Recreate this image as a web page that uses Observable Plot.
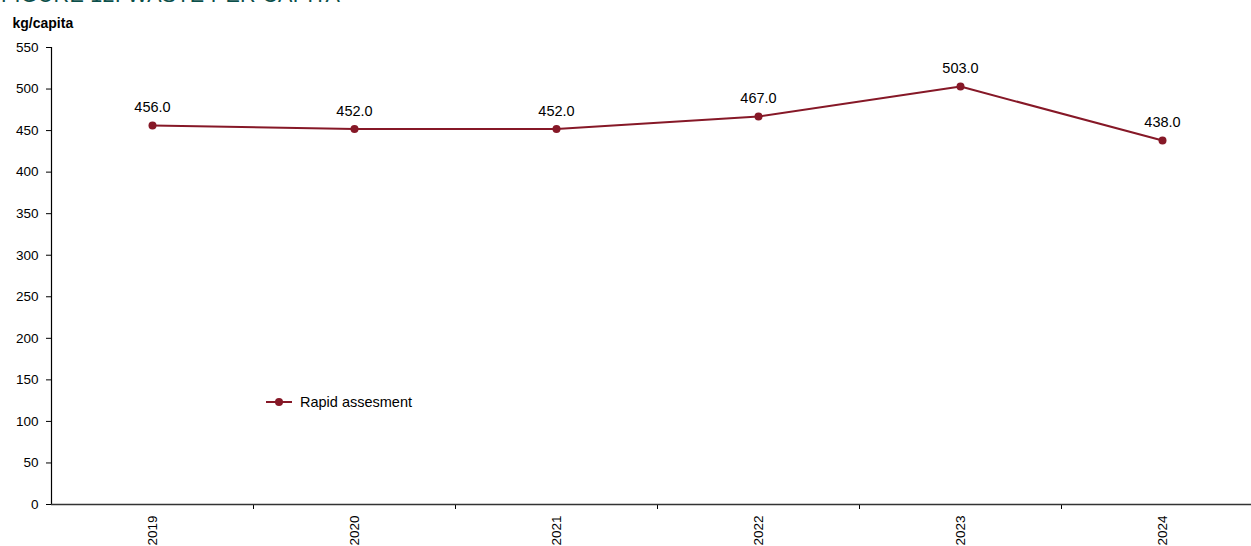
<!DOCTYPE html>
<html>
<head>
<meta charset="utf-8">
<script src="https://cdn.jsdelivr.net/npm/d3@7"></script>
<script src="https://cdn.jsdelivr.net/npm/@observablehq/plot@0.6"></script>
<style>
  html, body { margin: 0; padding: 0; background: #fff; overflow: hidden; }
  body { width: 1251px; height: 546px; position: relative; font-family: "Liberation Sans", Arial, sans-serif; }
  #title { position: absolute; left: 1px; top: -17px; font-size: 21.5px; color: #0b4f4a; white-space: nowrap; letter-spacing: 0.3px; }
  #chart { position: absolute; left: 0; top: 0; }
  #legend { position: absolute; left: 266px; top: 394px; display: flex; align-items: center; font-size: 14.5px; color: #000; }
</style>
</head>
<body>
<div id="chart"></div>
<div id="title">FIGURE 12: WASTE PER CAPITA</div>
<div id="legend">
  <svg width="30" height="16"><line x1="0" y1="8" x2="26" y2="8" stroke="#861827" stroke-width="2"></line><circle cx="13" cy="8" r="4" fill="#861827"></circle></svg>
  <span style="margin-left:4px">Rapid assesment</span>
</div>
<script>
const years = ["2019", "2020", "2021", "2022", "2023", "2024"];
const values = [456.0, 452.0, 452.0, 467.0, 503.0, 438.0];
const yTicks = [0, 50, 100, 150, 200, 250, 300, 350, 400, 450, 500, 550];
const seriesName = "Rapid assesment";
const yLabel = "kg/capita";

const data = years.map((y, i) => ({year: y, value: values[i]}));
const color = "#861827";
const bw = (1263 - 51) / years.length;

const plot = Plot.plot({
  width: 1251,
  height: 546,
  marginTop: 47,
  marginBottom: 42,
  marginLeft: 51,
  marginRight: 0,
  style: {fontFamily: "Liberation Sans, Arial, sans-serif", fontSize: "13.5px", color: "#000", background: "transparent", overflow: "visible"},
  x: {type: "band", domain: years, range: [51, 1263], padding: 0},
  y: {domain: [0, 550], range: [504, 47]},
  marks: [
    Plot.axisY({ticks: yTicks, tickSize: 5, tickPadding: 8, label: null, tickFormat: d => d, fontSize: 13.5, stroke: "#000"}),
    Plot.axisX({tickSize: 0, tickPadding: 11, tickRotate: -90, label: null, fontSize: 13.5}),
    Plot.ruleX(years.slice(0, -1), {x: d => d, y1: 0, y2: -6, dx: bw / 2, stroke: "#000", strokeWidth: 1}),
    Plot.frame({anchor: "left", stroke: "#000", strokeWidth: 1.2}),
    Plot.ruleY([0], {stroke: "#333", strokeWidth: 1.5}),
    Plot.line(data, {x: "year", y: "value", stroke: color, strokeWidth: 2}),
    Plot.dot(data, {x: "year", y: "value", r: 4, fill: color}),
    Plot.text(data, {x: "year", y: "value", text: d => d.value.toFixed(1), dy: -18, fontSize: 14.5, fill: "#000"}),
    Plot.text([yLabel], {frameAnchor: "top-left", dx: -39, dy: -29, text: d => d, textAnchor: "start", fontWeight: "bold", fontSize: 14, fill: "#000"})
  ]
});
document.getElementById("chart").appendChild(plot);
</script>
</body>
</html>
